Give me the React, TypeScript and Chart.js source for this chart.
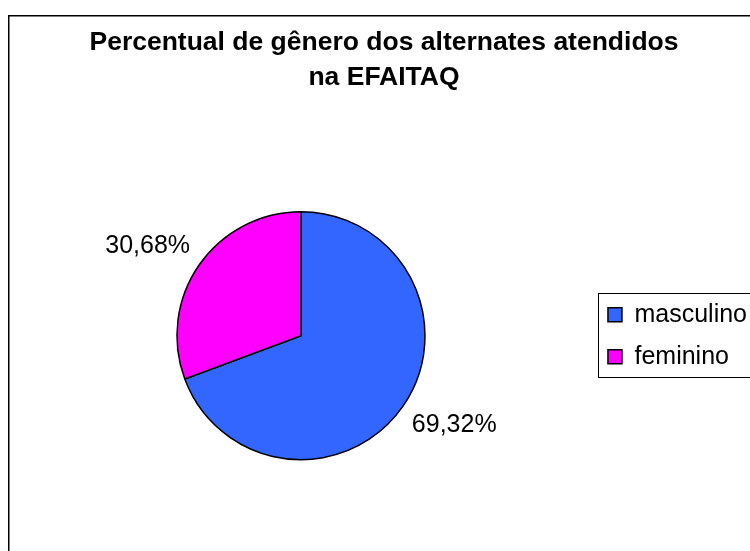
import { useEffect, useRef } from "react";
import { Chart, registerables } from "chart.js";

Chart.register(...registerables);

const titleLines = ["Percentual de gênero dos alternates atendidos", "na EFAITAQ"];
const categories = ["masculino", "feminino"];
const values = [69.32, 30.68];
const valueLabels = ["69,32%", "30,68%"];
const sliceColors = ["#3366FF", "#FF00FF"];

const FONT = '"Liberation Sans", Arial, Helvetica, sans-serif';

export default function App() {
  const ref = useRef<HTMLCanvasElement>(null);

  useEffect(() => {
    const canvas = ref.current;
    if (!canvas) return;

    const framePlugin = {
      id: "frame",
      beforeDraw(chart: any) {
        const ctx = chart.ctx;
        ctx.save();
        ctx.fillStyle = "#ffffff";
        ctx.fillRect(0, 0, chart.width, chart.height);
        ctx.strokeStyle = "#000000";
        ctx.lineWidth = 1.5;
        ctx.strokeRect(8.75, 15.75, chart.width + 100, chart.height + 100);
        ctx.restore();
      },
    };

    const legendBoxPlugin = {
      id: "legendBox",
      afterDraw(chart: any) {
        const lg = chart.legend;
        const hb = lg && lg.legendHitBoxes;
        if (!hb || !hb.length) return;
        const ctx = chart.ctx;
        const top = hb[0].top - 9;
        const last = hb[hb.length - 1];
        const bottom = last.top + last.height + 8;
        const left = hb[0].left - 10;
        ctx.save();
        ctx.strokeStyle = "#000000";
        ctx.lineWidth = 1;
        ctx.strokeRect(Math.round(left) + 0.5, Math.round(top) + 0.5, 300, Math.round(bottom - top));
        ctx.restore();
      },
    };

    const outLabelsPlugin = {
      id: "outLabels",
      afterDatasetsDraw(chart: any) {
        const meta = chart.getDatasetMeta(0);
        const ctx = chart.ctx;
        ctx.save();
        ctx.font = `25px ${FONT}`;
        ctx.fillStyle = "#000000";
        meta.data.forEach((arc: any, i: number) => {
          const p = arc.getProps(["x", "y", "startAngle", "endAngle", "outerRadius"], true);
          const mid = (p.startAngle + p.endAngle) / 2;
          const r = p.outerRadius + 11;
          const c = Math.cos(mid);
          const s = Math.sin(mid);
          ctx.textAlign = c >= 0 ? "left" : "right";
          ctx.textBaseline = s >= 0 ? "top" : "bottom";
          ctx.fillText(valueLabels[i], p.x + c * r, p.y + s * r);
        });
        ctx.restore();
      },
    };

    const chart = new Chart(canvas, {
      type: "pie",
      data: {
        labels: categories,
        datasets: [
          {
            data: values,
            backgroundColor: sliceColors,
            borderColor: "#000000",
            borderWidth: 1.5,
            radius: 124,
          } as any,
        ],
      },
      options: {
        responsive: false,
        animation: false,
        events: [],
        layout: { padding: { left: 11, right: 19, top: 20, bottom: 64 } },
        plugins: {
          title: {
            display: true,
            text: titleLines,
            color: "#000000",
            font: { family: FONT, size: 26.5, weight: "bold", lineHeight: 1.29 },
            padding: { top: 6, bottom: 90 },
          },
          legend: {
            display: true,
            position: "right",
            fullSize: false,
            labels: {
              color: "#000000",
              font: { family: FONT, size: 25 },
              boxWidth: 14,
              boxHeight: 14,
              padding: 17,
            },
          },
          tooltip: { enabled: false },
        },
      } as any,
      plugins: [framePlugin, legendBoxPlugin, outLabelsPlugin],
    });

    return () => chart.destroy();
  }, []);

  return (
    <div
      style={{
        position: "fixed",
        left: 0,
        top: 0,
        width: 750,
        height: 551,
        overflow: "hidden",
        background: "#ffffff",
      }}
    >
      <canvas
        ref={ref}
        width={776}
        height={551}
        style={{ position: "absolute", left: 0, top: 0, width: 776, height: 551 }}
      />
    </div>
  );
}
